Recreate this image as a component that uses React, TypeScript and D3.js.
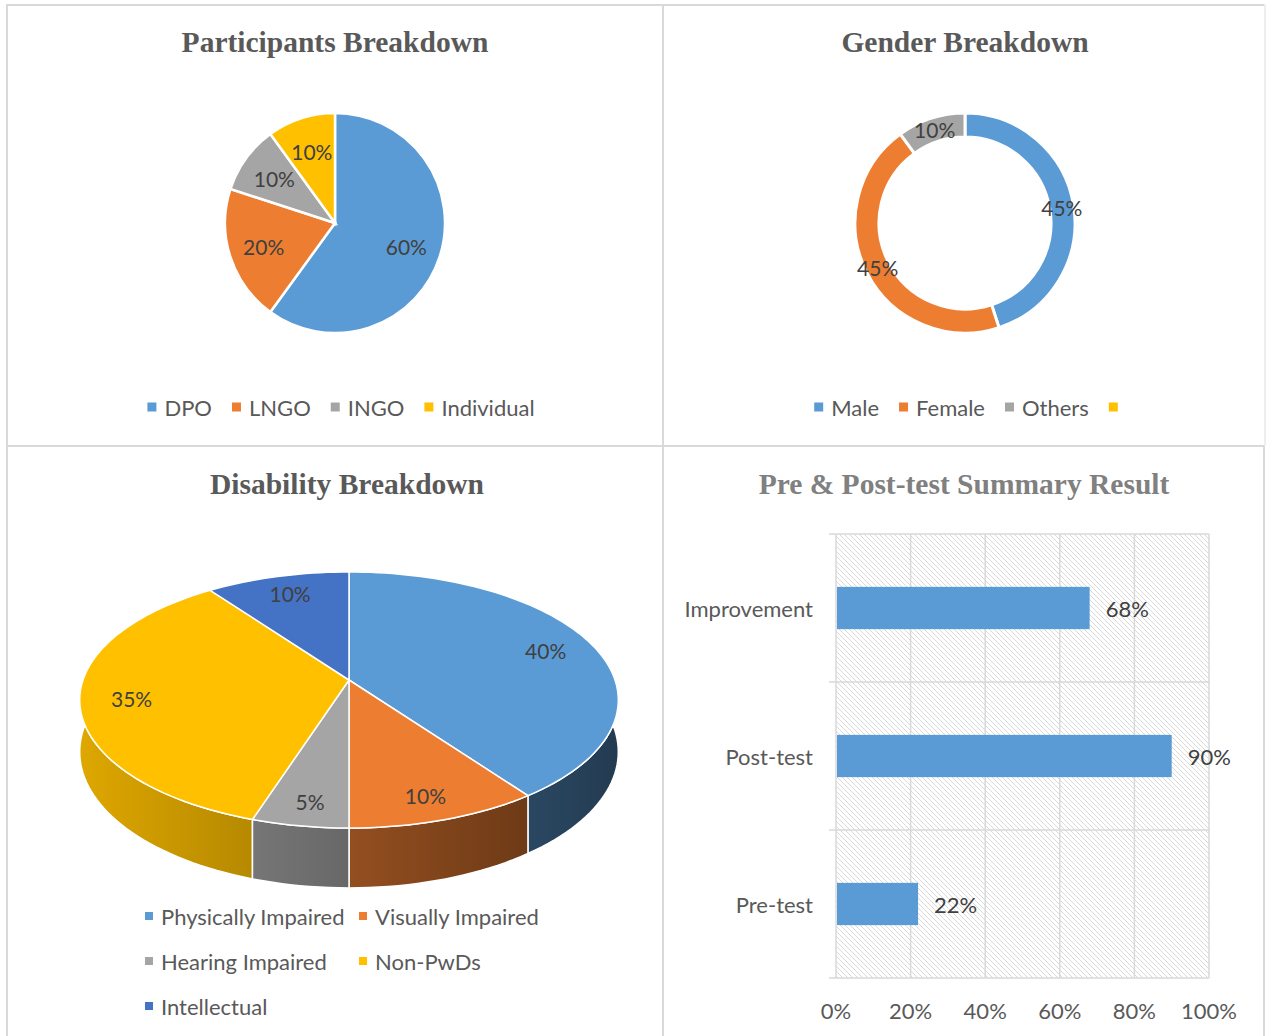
import React, { useEffect, useRef } from "react";
import * as d3 from "d3";

// ---------- data ----------
const participantCats = ["DPO", "LNGO", "INGO", "Individual"];
const participantVals = [60, 20, 10, 10];

const genderCats = ["Male", "Female", "Others", ""];
const genderVals = [45, 45, 10, 0];

const disabilityCats = ["Physically Impaired", "Visually Impaired", "Hearing Impaired", "Non-PwDs", "Intellectual"];
const disabilityVals = [40, 10, 5, 35, 10];

const testCats = ["Pre-test", "Post-test", "Improvement"];
const testVals = [22, 90, 68];
const xTicks = [0, 20, 40, 60, 80, 100];

const palette = ["#5B9BD5", "#ED7D31", "#A5A5A5", "#FFC000", "#4472C4"];

const FONT = "Lato, 'Open Sans', sans-serif";
const TITLE_FONT = "'Liberation Serif', 'Times New Roman', serif";
const BORDER = "#d9d9d9";
const FS = 22;
const LFS = 21;

function scaleColor(c: string, k: number) {
  const r = d3.rgb(c);
  return d3.rgb(r.r * k, r.g * k, r.b * k).formatHex();
}

export default function App() {
  const ref = useRef<SVGSVGElement>(null);

  useEffect(() => {
    const svg = d3.select(ref.current!);
    svg.selectAll("*").remove();
    const defs = svg.append("defs");

    // ---------- panel borders ----------
    const borders = svg.append("g").attr("stroke", BORDER).attr("stroke-width", 2);
    borders.append("line").attr("x1", 6).attr("x2", 1265).attr("y1", 5).attr("y2", 5);
    borders.append("line").attr("x1", 6).attr("x2", 1265).attr("y1", 446).attr("y2", 446);
    borders.append("line").attr("x1", 7).attr("x2", 7).attr("y1", 4).attr("y2", 1036);
    borders.append("line").attr("x1", 663).attr("x2", 663).attr("y1", 4).attr("y2", 1036);
    borders.append("line").attr("x1", 1264).attr("x2", 1264).attr("y1", 446).attr("y2", 1036);
    borders.append("line").attr("x1", 1265).attr("x2", 1265).attr("y1", 4).attr("y2", 446).attr("stroke", "#eeeeee");

    // ---------- titles ----------
    const title = (text: string, x: number, y: number, color = "#595959") =>
      svg.append("text").attr("x", x).attr("y", y).attr("text-anchor", "middle")
        .attr("font-family", TITLE_FONT).attr("font-weight", "bold").attr("font-size", 29.5)
        .attr("fill", color).text(text);
    title("Participants Breakdown", 335, 52);
    title("Gender Breakdown", 965, 52);
    title("Disability Breakdown", 347, 494);
    title("Pre & Post-test Summary Result", 964, 494, "#808080");

    // ---------- legend helper ----------
    const legendRow = (cats: string[], colors: string[], cx: number, y: number, gap: number) => {
      const g = svg.append("g");
      const items = cats.map((c, i) => {
        const ig = g.append("g");
        ig.append("rect").attr("width", 9).attr("height", 9).attr("y", -4.5).attr("fill", colors[i]);
        const t = ig.append("text").attr("x", 17).attr("dominant-baseline", "central")
          .attr("font-family", FONT).attr("font-size", FS).attr("fill", "#595959").text(c);
        const w = c ? 17 + (t.node() as SVGTextElement).getComputedTextLength() : 9;
        return { ig, w };
      });
      const total = d3.sum(items, (d) => d.w) + gap * (items.length - 1);
      let x = cx - total / 2;
      items.forEach((it) => {
        it.ig.attr("transform", `translate(${x},${y})`);
        x += it.w + gap;
      });
    };

    // ---------- participants pie ----------
    {
      const cx = 335, cy = 223, r = 110;
      const arcs = d3.pie<number>().sort(null).value((d) => d)(participantVals);
      const arc = d3.arc<d3.PieArcDatum<number>>().innerRadius(0).outerRadius(r);
      const lab = d3.arc<d3.PieArcDatum<number>>().innerRadius(150).outerRadius(0);
      const g = svg.append("g").attr("transform", `translate(${cx},${cy})`);
      g.selectAll("path").data(arcs).join("path").attr("d", arc)
        .attr("fill", (_, i) => palette[i]).attr("stroke", "#fff").attr("stroke-width", 2.5);
      g.selectAll("text").data(arcs).join("text")
        .attr("transform", (d) => `translate(${lab.centroid(d)})`)
        .attr("text-anchor", "middle").attr("dominant-baseline", "central")
        .attr("font-family", FONT).attr("font-size", LFS).attr("fill", "#404040")
        .text((d) => `${d.data}%`);
      legendRow(participantCats, palette, 341, 407, 20);
    }

    // ---------- gender donut ----------
    {
      const cx = 965, cy = 223, r = 110, ir = 86;
      const arcs = d3.pie<number>().sort(null).value((d) => d)(genderVals);
      const arc = d3.arc<d3.PieArcDatum<number>>().innerRadius(ir).outerRadius(r);
      const lab = d3.arc<d3.PieArcDatum<number>>().innerRadius(98).outerRadius(98);
      const g = svg.append("g").attr("transform", `translate(${cx},${cy})`);
      g.selectAll("path").data(arcs.filter((d) => d.data > 0)).join("path").attr("d", arc)
        .attr("fill", (d) => palette[d.index]).attr("stroke", "#fff").attr("stroke-width", 3);
      g.selectAll("text").data(arcs.filter((d) => d.data > 0)).join("text")
        .attr("transform", (d) => `translate(${lab.centroid(d)})`)
        .attr("text-anchor", "middle").attr("dominant-baseline", "central")
        .attr("font-family", FONT).attr("font-size", LFS).attr("fill", "#404040")
        .text((d) => `${d.data}%`);
      legendRow(genderCats, palette, 966, 407, 20);
    }

    // ---------- disability 3D pie ----------
    {
      const cx = 349, cy = 680, A = 124.9, B = 266, p = 0.156, H = 50.6;
      const proj = (t: number, f: number, drop = 0): [number, number] => {
        const u = f * Math.sin(t), v = -f * Math.cos(t);
        const den = 1 - p * v;
        return [cx + (B * u) / den, cy + (A * v + drop) / den];
      };
      const arcs = d3.pie<number>().sort(null).value((d) => d)(disabilityVals);
      const line = d3.line();
      const sample = (a: number, b: number) => {
        const n = Math.max(4, Math.ceil(((b - a) / (Math.PI * 2)) * 200));
        return d3.range(n + 1).map((k) => a + ((b - a) * k) / n);
      };
      arcs.forEach((d, i) => {
        const gr = defs.append("linearGradient").attr("id", `side${i}`)
          .attr("gradientUnits", "userSpaceOnUse").attr("x1", 80).attr("x2", 618).attr("y1", 0).attr("y2", 0);
        gr.append("stop").attr("offset", 0).attr("stop-color", scaleColor(palette[i], 0.87));
        gr.append("stop").attr("offset", 1).attr("stop-color", scaleColor(palette[i], 0.38));
      });
      const g = svg.append("g");
      // walls (back to front)
      const walls = arcs.map((d, i) => {
        const ts = sample(d.startAngle, d.endAngle);
        const pts = ts.map((t) => proj(t, 1)).concat(ts.slice().reverse().map((t) => proj(t, 1, H)));
        const mid = (d.startAngle + d.endAngle) / 2;
        return { i, pts, depth: -Math.cos(mid) };
      }).sort((a, b) => a.depth - b.depth);
      walls.forEach((w) => {
        g.append("path").attr("d", line(w.pts as [number, number][]) + "Z")
          .attr("fill", `url(#side${w.i})`).attr("stroke", "#fff").attr("stroke-width", 1.5)
          .attr("stroke-linejoin", "round");
      });
      // top faces
      arcs.forEach((d, i) => {
        const pts: [number, number][] = [[cx, cy], ...sample(d.startAngle, d.endAngle).map((t) => proj(t, 1))];
        g.append("path").attr("d", line(pts) + "Z").attr("fill", palette[i])
          .attr("stroke", "#fff").attr("stroke-width", 1.5).attr("stroke-linejoin", "round");
      });
      arcs.forEach((d) => {
        const mid = (d.startAngle + d.endAngle) / 2;
        const [x, y] = proj(mid, 0.84);
        g.append("text").attr("x", x - 8 * Math.sin(mid)).attr("y", y + 2).attr("text-anchor", "middle")
          .attr("dominant-baseline", "central").attr("font-family", FONT).attr("font-size", LFS)
          .attr("fill", "#404040").text(`${d.data}%`);
      });
      // legend grid
      const lg = svg.append("g");
      const rowsY = [916, 961, 1006];
      const colX = [145, 359];
      disabilityCats.forEach((c, i) => {
        const x = colX[i % 2], y = rowsY[Math.floor(i / 2)];
        lg.append("rect").attr("x", x).attr("y", y - 4).attr("width", 8).attr("height", 8).attr("fill", palette[i]);
        lg.append("text").attr("x", x + 16).attr("y", y).attr("dominant-baseline", "central")
          .attr("font-family", FONT).attr("font-size", FS).attr("fill", "#595959").text(c);
      });
    }

    // ---------- bar chart ----------
    {
      const x = d3.scaleLinear().domain([0, 100]).range([836, 1209]);
      const y = d3.scaleBand<string>().domain(testCats.slice().reverse()).range([534, 978])
        .paddingInner(2.5 / 3.5).paddingOuter(1.25 / 3.5);
      const pat = defs.append("pattern").attr("id", "hatch").attr("patternUnits", "userSpaceOnUse")
        .attr("width", 5).attr("height", 5);
      pat.append("rect").attr("width", 5).attr("height", 5).attr("fill", "#fff");
      pat.append("path").attr("d", "M-1,-1 L6,6 M-1,4 L1,6 M4,-1 L6,1")
        .attr("stroke", "#cfcfcf").attr("stroke-width", 0.8);
      const g = svg.append("g");
      g.append("rect").attr("x", x(0)).attr("y", 534).attr("width", x(100) - x(0)).attr("height", 444)
        .attr("fill", "url(#hatch)");
      const step = y.step();
      const bounds = d3.range(testCats.length + 1).map((k) => 534 + k * step);
      g.selectAll("line.v").data(xTicks).join("line").attr("class", "v")
        .attr("x1", (d) => x(d)).attr("x2", (d) => x(d)).attr("y1", 534).attr("y2", 978)
        .attr("stroke", BORDER).attr("stroke-width", 1.5);
      g.selectAll("line.h").data(bounds).join("line").attr("class", "h")
        .attr("x1", 829).attr("x2", x(100)).attr("y1", (d) => d).attr("y2", (d) => d)
        .attr("stroke", BORDER).attr("stroke-width", 1.5);
      g.selectAll("rect.bar").data(testCats).join("rect").attr("class", "bar")
        .attr("x", x(0) + 1).attr("y", (d) => y(d)!).attr("height", y.bandwidth())
        .attr("width", (_, i) => x(testVals[i]) - x(0) - 1).attr("fill", "#5B9BD5");
      g.selectAll("text.val").data(testCats).join("text").attr("class", "val")
        .attr("x", (_, i) => x(testVals[i]) + 16).attr("y", (d) => y(d)! + y.bandwidth() / 2)
        .attr("dominant-baseline", "central").attr("font-family", FONT).attr("font-size", FS)
        .attr("fill", "#404040").text((_, i) => `${testVals[i]}%`);
      g.selectAll("text.cat").data(testCats).join("text").attr("class", "cat")
        .attr("x", 813).attr("y", (d) => y(d)! + y.bandwidth() / 2).attr("text-anchor", "end")
        .attr("dominant-baseline", "central").attr("font-family", FONT).attr("font-size", FS)
        .attr("fill", "#595959").text((d) => d);
      g.selectAll("text.tick").data(xTicks).join("text").attr("class", "tick")
        .attr("x", (d) => x(d)).attr("y", 1010).attr("text-anchor", "middle")
        .attr("dominant-baseline", "central").attr("font-family", FONT).attr("font-size", FS)
        .attr("fill", "#595959").text((d) => `${d}%`);
    }
  }, []);

  return (
    <svg ref={ref} width={1266} height={1036}
      style={{ position: "absolute", left: 0, top: 0, background: "#fff", display: "block" }} />
  );
}
